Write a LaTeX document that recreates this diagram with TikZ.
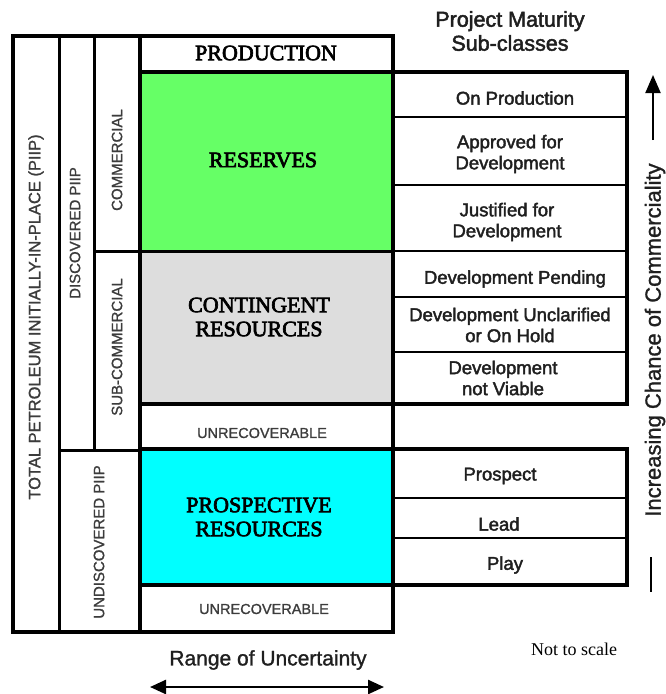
\documentclass[tikz,border=0pt]{standalone}
\usepackage{fontspec}
\setmainfont{Liberation Serif}
\newfontfamily\sansf{Liberation Sans}
\newfontfamily\sansmf{Liberation Sans}[UprightFeatures={FakeBold=1.2}]
\newfontfamily\sansbf{Liberation Sans}[UprightFeatures={FakeBold=2.2}]
\newfontfamily\serifbf{Liberation Serif}[UprightFeatures={FakeBold=3}]
\usetikzlibrary{arrows.meta}
\definecolor{resgreen}{RGB}{102,255,102}
\definecolor{congrey}{RGB}{221,221,221}
\definecolor{procyan}{RGB}{0,255,255}
\definecolor{greytext}{RGB}{60,60,60}
\tikzset{
  thickline/.style={line width=4.5pt},
  medline/.style={line width=3pt},
  thinline/.style={line width=1.6pt},
  mainlabel/.style={align=center,inner sep=0pt,font=\serifbf\fontsize{22}{24}\selectfont},
  sublabel/.style={align=center,inner sep=0pt,font=\sansbf\fontsize{18.5}{21}\selectfont,text=black!88},
  vlabel/.style={rotate=90,inner sep=0pt,text=greytext,font=\sansmf\fontsize{15}{17}\selectfont},
  unrec/.style={inner sep=0pt,text=greytext,font=\sansmf\fontsize{14.5}{16}\selectfont},
  headlabel/.style={align=center,inner sep=0pt,font=\sansbf\fontsize{21.5}{24}\selectfont,text=black!88},
}
\begin{document}
\begin{tikzpicture}[x=1pt,y=-1pt]
\useasboundingbox (0,0) rectangle (666,694);
% fills
\fill[resgreen] (140,72) rectangle (393,251);
\fill[congrey] (140,251) rectangle (393,404);
\fill[procyan] (140,449) rectangle (393,585);
% left structure
\draw[medline] (59,36) -- (59,632);
\draw[medline] (94,36) -- (94,450);
\draw[medline] (59,450) -- (140,450);
\draw[medline] (94,251) -- (140,251);
\draw[thickline] (140,36) -- (140,632);
\draw[medline] (140,251) -- (393,251);
% right table rows
\foreach \yy in {117,185,251,297,352,498,538}
  \draw[thinline] (393,\yy) -- (627,\yy);
% thick boxes
\draw[thickline] (140,72) rectangle (627,404);
\draw[thickline] (140,449) rectangle (627,585);
\draw[thickline] (13,36) rectangle (393,632);
% main labels
\node[mainlabel] (prod) at (266,53) {PRODUCTION};
\node[mainlabel] (res) at (263,160) {RESERVES};
\node[mainlabel] (cont) at (259,317) {CONTINGENT\\RESOURCES};
\node[mainlabel] (pros) at (259,517) {PROSPECTIVE\\RESOURCES};
\node[unrec] (unrecA) at (262,433) {UNRECOVERABLE};
\node[unrec] (unrecB) at (264,609) {UNRECOVERABLE};
% vertical labels
\node[vlabel,font=\sansmf\fontsize{16.5}{18}\selectfont] (piip) at (36,317) {TOTAL PETROLEUM INITIALLY-IN-PLACE (PIIP)};
\node[vlabel] (disc) at (75,233) {DISCOVERED PIIP};
\node[vlabel] (undisc) at (99,542) {UNDISCOVERED PIIP};
\node[vlabel] (comm) at (117,160) {COMMERCIAL};
\node[vlabel] (subcomm) at (117,347) {SUB-COMMERCIAL};
% sub-classes
\node[headlabel] (pm) at (510,31) {Project Maturity\\Sub-classes};
\node[sublabel] (onprod) at (515,98) {On Production};
\node[sublabel] (appr) at (510,154) {Approved for\\Development};
\node[sublabel] (just) at (507,222) {Justified for\\Development};
\node[sublabel] (pend) at (515,279) {Development Pending};
\node[sublabel] (uncl) at (510,325) {Development Unclarified\\or On Hold};
\node[sublabel] (notv) at (503,378) {Development\\not Viable};
\node[sublabel] (prospect) at (500,476) {Prospect};
\node[sublabel] (lead) at (499,524) {Lead};
\node[sublabel] (play) at (505,565) {Play};
% commerciality arrow
\node[rotate=90,inner sep=0pt,font=\sansmf\fontsize{22}{24}\selectfont,text=black!88] (chance) at (655,340) {Increasing Chance of Commerciality};
\coordinate (arrA) at (653,140);
\coordinate (arrB) at (653,75);
\draw[line width=2pt,-{Triangle[length=18pt,width=15pt]}] (arrA) -- (arrB);
\coordinate (barA) at (651,557);
\coordinate (barB) at (651,592);
\draw[line width=2pt] (barA) -- (barB);
% uncertainty
\node[inner sep=0pt,font=\sansmf\fontsize{21}{23}\selectfont,text=black!88] (range) at (268,660) {Range of Uncertainty};
\coordinate (rA) at (150,687);
\coordinate (rB) at (384,687);
\draw[line width=2.5pt,{Triangle[length=16pt,width=14pt]}-{Triangle[length=16pt,width=14pt]}] (rA) -- (rB);
\node[inner sep=0pt,font=\fontsize{18}{20}\selectfont] (nts) at (574,649) {Not to scale};
\end{tikzpicture}
\end{document}
